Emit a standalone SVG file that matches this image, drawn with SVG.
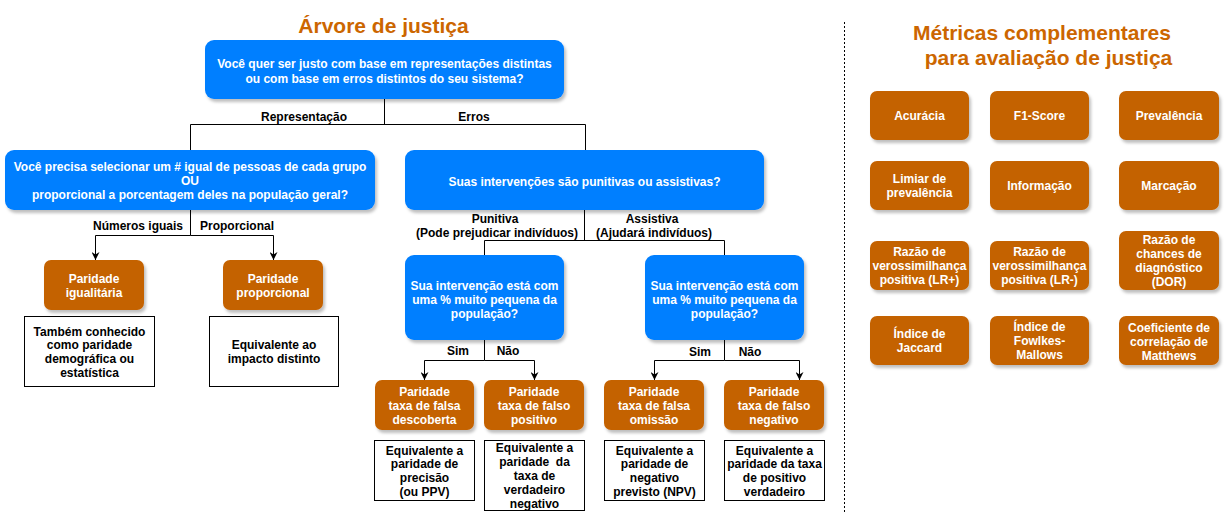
<svg xmlns="http://www.w3.org/2000/svg" width="1225" height="514" viewBox="0 0 1225 514">
<style>
text{font-family:"Liberation Sans",Arial,sans-serif;font-weight:bold;font-size:12px;text-anchor:middle}
.w{fill:#ffffff}
.k{fill:#000000}
.t{fill:#CC6600;font-size:21px}
.blue{fill:#007FFF;filter:url(#sh)}
.org{fill:#C46200;filter:url(#sh)}
.box{fill:#ffffff;stroke:#000000;stroke-width:1}
.c{fill:none;stroke:#000000;stroke-width:1}
</style>
<defs>
<filter id="sh" x="-10%" y="-10%" width="130%" height="140%">
<feDropShadow dx="2" dy="3" stdDeviation="1.5" flood-color="#000000" flood-opacity="0.25"/>
</filter>
<marker id="ar" viewBox="0 0 10 10" refX="10" refY="5" markerWidth="8" markerHeight="8" markerUnits="userSpaceOnUse" orient="auto">
<path d="M0,0 L10,5 L0,10 L3,5 Z" fill="#000000"/>
</marker>
</defs>
<rect width="1225" height="514" fill="#ffffff"/>

<text class="t" x="383.5" y="33">Árvore de justiça</text>
<text class="t" x="1042" y="40">Métricas complementares</text>
<text class="t" x="1048.5" y="65">para avaliação de justiça</text>

<line x1="844.5" y1="22" x2="844.5" y2="514" stroke="#000000" stroke-dasharray="2 2"/>

<g id="connectors">
<path class="c" d="M384.5 99 V124.5"/>
<path class="c" d="M190.5 150 V124.5 H585.5 V150"/>
<path class="c" d="M190.5 210 V235.5 H95.5 V260" marker-end="url(#ar)"/>
<path class="c" d="M190.5 235.5 H273.5 V260" marker-end="url(#ar)"/>
<path class="c" d="M584.5 210 V240.5"/>
<path class="c" d="M484.5 255 V240.5 H724.5 V255"/>
<path class="c" d="M484.5 340 V360.5 H424.5 V380" marker-end="url(#ar)"/>
<path class="c" d="M484.5 360.5 H534.5 V380" marker-end="url(#ar)"/>
<path class="c" d="M724.5 340 V360.5 H654.5 V380" marker-end="url(#ar)"/>
<path class="c" d="M724.5 360.5 H799.5 V380" marker-end="url(#ar)"/>
<text class="k" x="304" y="121">Representação</text>
<text class="k" x="474" y="121">Erros</text>
<text class="k" x="138" y="230">Números iguais</text>
<text class="k" x="237" y="230">Proporcional</text>
<text class="k" x="495" y="223">Punitiva</text>
<text class="k" x="497" y="237">(Pode prejudicar indivíduos)</text>
<text class="k" x="652" y="223">Assistiva</text>
<text class="k" x="654" y="237">(Ajudará indivíduos)</text>
<text class="k" x="458" y="355">Sim</text>
<text class="k" x="508" y="355">Não</text>
<text class="k" x="700" y="356">Sim</text>
<text class="k" x="750" y="356">Não</text>
</g>

<g id="q-top">
<rect class="blue" x="205" y="40" width="359" height="59" rx="9"/>
<text class="w" x="384.5" y="68">Você quer ser justo com base em representações distintas</text>
<text class="w" x="384.5" y="83">ou com base em erros distintos do seu sistema?</text>
</g>
<g id="q-repr">
<rect class="blue" x="5" y="150" width="370" height="60" rx="9"/>
<text class="w" x="190" y="171">Você precisa selecionar um # igual de pessoas de cada grupo</text>
<text class="w" x="190" y="185">OU</text>
<text class="w" x="190" y="199">proporcional a porcentagem deles na população geral?</text>
</g>
<g id="q-erros">
<rect class="blue" x="405" y="150" width="359" height="60" rx="9"/>
<text class="w" x="584.5" y="186">Suas intervenções são punitivas ou assistivas?</text>
</g>
<g id="q-pun">
<rect class="blue" x="405" y="255" width="159" height="85" rx="9"/>
<text class="w" x="484.5" y="290">Sua intervenção está com</text>
<text class="w" x="484.5" y="304">uma % muito pequena da</text>
<text class="w" x="484.5" y="318">população?</text>
</g>
<g id="q-ass">
<rect class="blue" x="645" y="255" width="159" height="85" rx="9"/>
<text class="w" x="724.5" y="290">Sua intervenção está com</text>
<text class="w" x="724.5" y="304">uma % muito pequena da</text>
<text class="w" x="724.5" y="318">população?</text>
</g>

<g id="par-igual">
<rect class="org" x="44" y="260" width="100" height="50" rx="7"/>
<text class="w" x="94" y="283">Paridade</text>
<text class="w" x="94" y="297">igualitária</text>
</g>
<g id="par-prop">
<rect class="org" x="223" y="260" width="100" height="50" rx="7"/>
<text class="w" x="273" y="283">Paridade</text>
<text class="w" x="273" y="297">proporcional</text>
</g>
<g id="note-igual">
<rect class="box" x="24.5" y="316.5" width="130" height="70"/>
<text class="k" x="89.5" y="336">Também conhecido</text>
<text class="k" x="89.5" y="349">como paridade</text>
<text class="k" x="89.5" y="363">demográfica ou</text>
<text class="k" x="89.5" y="377">estatística</text>
</g>
<g id="note-prop">
<rect class="box" x="209.5" y="316.5" width="129" height="70"/>
<text class="k" x="274" y="349">Equivalente ao</text>
<text class="k" x="274" y="363">impacto distinto</text>
</g>

<g id="par-fd">
<rect class="org" x="375" y="380" width="99" height="50" rx="7"/>
<text class="w" x="424.5" y="396">Paridade</text>
<text class="w" x="424.5" y="410">taxa de falsa</text>
<text class="w" x="424.5" y="424">descoberta</text>
</g>
<g id="par-fp">
<rect class="org" x="484" y="380" width="100" height="50" rx="7"/>
<text class="w" x="534" y="396">Paridade</text>
<text class="w" x="534" y="410">taxa de falso</text>
<text class="w" x="534" y="424">positivo</text>
</g>
<g id="par-fo">
<rect class="org" x="604" y="380" width="100" height="50" rx="7"/>
<text class="w" x="654" y="396">Paridade</text>
<text class="w" x="654" y="410">taxa de falsa</text>
<text class="w" x="654" y="424">omissão</text>
</g>
<g id="par-fn">
<rect class="org" x="724" y="380" width="100" height="50" rx="7"/>
<text class="w" x="774" y="396">Paridade</text>
<text class="w" x="774" y="410">taxa de falso</text>
<text class="w" x="774" y="424">negativo</text>
</g>

<g id="note-fd">
<rect class="box" x="374.5" y="440.5" width="100" height="60"/>
<text class="k" x="424.5" y="455">Equivalente a</text>
<text class="k" x="424.5" y="468">paridade de</text>
<text class="k" x="424.5" y="482">precisão</text>
<text class="k" x="424.5" y="496">(ou PPV)</text>
</g>
<g id="note-fp">
<rect class="box" x="484.5" y="440.5" width="100" height="70"/>
<text class="k" x="534.5" y="452">Equivalente a</text>
<text class="k" x="534.5" y="466" style="white-space:pre">paridade  da</text>
<text class="k" x="534.5" y="480">taxa de</text>
<text class="k" x="534.5" y="494">verdadeiro</text>
<text class="k" x="534.5" y="508">negativo</text>
</g>
<g id="note-fo">
<rect class="box" x="604.5" y="440.5" width="100" height="60"/>
<text class="k" x="654.5" y="455">Equivalente a</text>
<text class="k" x="654.5" y="468">paridade de</text>
<text class="k" x="654.5" y="482">negativo</text>
<text class="k" x="654.5" y="496">previsto (NPV)</text>
</g>
<g id="note-fn">
<rect class="box" x="724.5" y="440.5" width="100" height="60"/>
<text class="k" x="774.5" y="455">Equivalente a</text>
<text class="k" x="774.5" y="468">paridade da taxa</text>
<text class="k" x="774.5" y="482">de positivo</text>
<text class="k" x="774.5" y="496">verdadeiro</text>
</g>

<g id="m-acuracia">
<rect class="org" x="870" y="91" width="99" height="49" rx="7"/>
<text class="w" x="919.5" y="120">Acurácia</text>
</g>
<g id="m-f1">
<rect class="org" x="990" y="91" width="99" height="49" rx="7"/>
<text class="w" x="1039.5" y="120">F1-Score</text>
</g>
<g id="m-prev">
<rect class="org" x="1119" y="91" width="100" height="49" rx="7"/>
<text class="w" x="1169" y="120">Prevalência</text>
</g>
<g id="m-limiar">
<rect class="org" x="870" y="161" width="99" height="49" rx="7"/>
<text class="w" x="919.5" y="183">Limiar de</text>
<text class="w" x="919.5" y="197">prevalência</text>
</g>
<g id="m-info">
<rect class="org" x="990" y="161" width="99" height="49" rx="7"/>
<text class="w" x="1039.5" y="190">Informação</text>
</g>
<g id="m-marc">
<rect class="org" x="1119" y="161" width="100" height="49" rx="7"/>
<text class="w" x="1169" y="190">Marcação</text>
</g>
<g id="m-lrp">
<rect class="org" x="870" y="241" width="99" height="49" rx="7"/>
<text class="w" x="919.5" y="256">Razão de</text>
<text class="w" x="919.5" y="270">verossimilhança</text>
<text class="w" x="919.5" y="284">positiva (LR+)</text>
</g>
<g id="m-lrn">
<rect class="org" x="990" y="241" width="99" height="49" rx="7"/>
<text class="w" x="1039.5" y="256">Razão de</text>
<text class="w" x="1039.5" y="270">verossimilhança</text>
<text class="w" x="1039.5" y="284">positiva (LR-)</text>
</g>
<g id="m-dor">
<rect class="org" x="1119" y="231" width="100" height="59" rx="7"/>
<text class="w" x="1169" y="244">Razão de</text>
<text class="w" x="1169" y="258">chances de</text>
<text class="w" x="1169" y="272">diagnóstico</text>
<text class="w" x="1169" y="286">(DOR)</text>
</g>
<g id="m-jac">
<rect class="org" x="870" y="316" width="99" height="49" rx="7"/>
<text class="w" x="919.5" y="338">Índice de</text>
<text class="w" x="919.5" y="352">Jaccard</text>
</g>
<g id="m-fm">
<rect class="org" x="990" y="316" width="99" height="49" rx="7"/>
<text class="w" x="1039.5" y="331">Índice de</text>
<text class="w" x="1039.5" y="345">Fowlkes-</text>
<text class="w" x="1039.5" y="359">Mallows</text>
</g>
<g id="m-mcc">
<rect class="org" x="1119" y="316" width="100" height="49" rx="7"/>
<text class="w" x="1169" y="332">Coeficiente de</text>
<text class="w" x="1169" y="346">correlação de</text>
<text class="w" x="1169" y="360">Matthews</text>
</g>
</svg>
